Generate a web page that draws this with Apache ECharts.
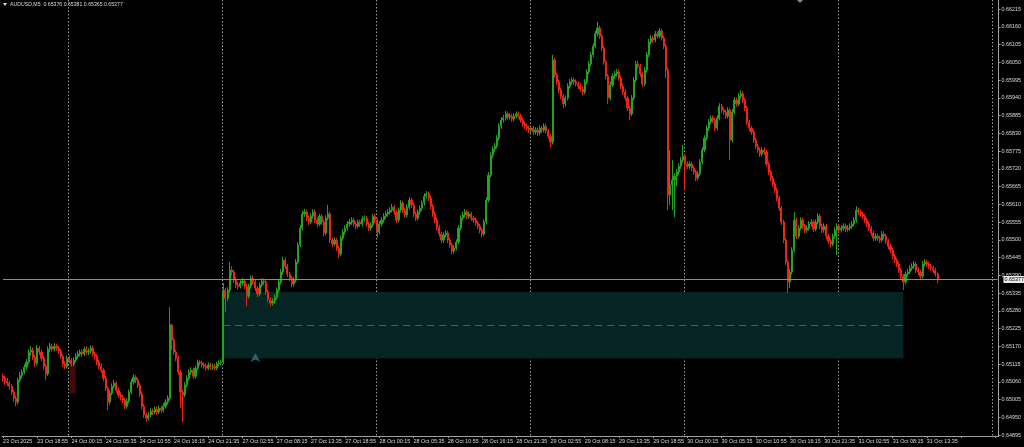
<!DOCTYPE html>
<html>
<head>
<meta charset="utf-8">
<script src="https://cdn.jsdelivr.net/npm/echarts@6/dist/echarts.min.js"></script>
<style>
html,body{margin:0;padding:0;background:#000;}
#c{width:1024px;height:447px;}
</style>
</head>
<body>
<div id="c"></div>
<script>
// 20-minute candles: [open, close, low, high]
const candles = [
[0.65078,0.65071,0.65061,0.65086],[0.65071,0.65062,0.65050,0.65079],[0.65062,0.65056,0.65047,0.65072],[0.65056,0.65046,0.65035,0.65063],[0.65046,0.65028,0.65019,0.65054],
[0.65028,0.65009,0.64998,0.65035],[0.65009,0.64997,0.64984,0.65017],[0.64997,0.65065,0.64990,0.65073],[0.65065,0.65080,0.65058,0.65091],[0.65080,0.65090,0.65071,0.65098],
[0.65090,0.65105,0.65083,0.65114],[0.65105,0.65121,0.65097,0.65130],[0.65121,0.65152,0.65114,0.65160],[0.65152,0.65158,0.65141,0.65170],[0.65158,0.65136,0.65128,0.65166],
[0.65136,0.65118,0.65106,0.65144],[0.65118,0.65164,0.65112,0.65173],[0.65164,0.65152,0.65143,0.65171],[0.65152,0.65133,0.65124,0.65160],[0.65133,0.65108,0.65097,0.65141],
[0.65108,0.65084,0.65065,0.65115],[0.65084,0.65161,0.65078,0.65170],[0.65161,0.65170,0.65152,0.65181],[0.65170,0.65161,0.65153,0.65178],[0.65161,0.65170,0.65154,0.65179],
[0.65170,0.65164,0.65156,0.65178],[0.65164,0.65155,0.65146,0.65171],[0.65155,0.65139,0.65130,0.65162],[0.65139,0.65115,0.65106,0.65145],[0.65115,0.65108,0.65099,0.65124],
[0.65108,0.65133,0.65101,0.65141],[0.65133,0.65127,0.65118,0.65142],[0.65127,0.65115,0.65107,0.65134],[0.65115,0.65127,0.65108,0.65136],[0.65127,0.65139,0.65120,0.65148],
[0.65139,0.65146,0.65131,0.65155],[0.65146,0.65152,0.65138,0.65160],[0.65152,0.65146,0.65137,0.65161],[0.65146,0.65161,0.65140,0.65169],[0.65161,0.65152,0.65144,0.65170],
[0.65152,0.65155,0.65143,0.65164],[0.65155,0.65164,0.65147,0.65173],[0.65164,0.65146,0.65138,0.65171],[0.65146,0.65139,0.65129,0.65154],[0.65139,0.65121,0.65112,0.65146],
[0.65121,0.65108,0.65098,0.65128],[0.65108,0.65096,0.65087,0.65116],[0.65096,0.65071,0.65062,0.65103],[0.65071,0.65040,0.65031,0.65078],[0.65040,0.64997,0.64972,0.65046],
[0.64997,0.65025,0.64988,0.65034],[0.65025,0.65046,0.65018,0.65055],[0.65046,0.65056,0.65039,0.65066],[0.65056,0.65034,0.65026,0.65062],[0.65034,0.65019,0.65010,0.65042],
[0.65019,0.65012,0.65002,0.65027],[0.65012,0.65003,0.64994,0.65020],[0.65003,0.64984,0.64975,0.65010],[0.64984,0.65000,0.64977,0.65009],[0.65000,0.65028,0.64993,0.65036],
[0.65028,0.65059,0.65021,0.65068],[0.65059,0.65074,0.65051,0.65083],[0.65074,0.65065,0.65056,0.65081],[0.65065,0.65050,0.65041,0.65072],[0.65050,0.65022,0.65013,0.65057],
[0.65022,0.64984,0.64975,0.65029],[0.64984,0.64957,0.64948,0.64991],[0.64957,0.64947,0.64936,0.64964],[0.64947,0.64957,0.64940,0.64966],[0.64957,0.64969,0.64950,0.64978],
[0.64969,0.64966,0.64957,0.64977],[0.64966,0.64975,0.64959,0.64984],[0.64975,0.64966,0.64958,0.64983],[0.64966,0.64978,0.64960,0.64987],[0.64978,0.64972,0.64963,0.64986],
[0.64972,0.64984,0.64965,0.64993],[0.64984,0.64997,0.64977,0.65006],[0.64997,0.65009,0.64989,0.65018],[0.65009,0.65236,0.65002,0.65291],[0.65236,0.65189,0.65158,0.65240],
[0.65189,0.65152,0.65143,0.65196],[0.65152,0.65133,0.65124,0.65160],[0.65133,0.65090,0.65081,0.65140],[0.65090,0.65028,0.64978,0.65097],[0.65028,0.65019,0.64935,0.65035],
[0.65019,0.65050,0.65012,0.65059],[0.65050,0.65071,0.65043,0.65080],[0.65071,0.65090,0.65064,0.65098],[0.65090,0.65096,0.65082,0.65105],[0.65096,0.65077,0.65069,0.65104],
[0.65077,0.65102,0.65070,0.65110],[0.65102,0.65121,0.65095,0.65129],[0.65121,0.65118,0.65110,0.65128],[0.65118,0.65112,0.65104,0.65125],[0.65112,0.65108,0.65100,0.65119],
[0.65108,0.65102,0.65094,0.65116],[0.65102,0.65112,0.65096,0.65120],[0.65112,0.65105,0.65098,0.65119],[0.65105,0.65108,0.65097,0.65116],[0.65108,0.65102,0.65095,0.65115],
[0.65102,0.65115,0.65096,0.65122],[0.65115,0.65118,0.65108,0.65126],[0.65118,0.65121,0.65111,0.65128],[0.65121,0.65344,0.65115,0.65366],[0.65344,0.65319,0.65276,0.65351],
[0.65319,0.65344,0.65311,0.65353],[0.65344,0.65406,0.65337,0.65431],[0.65406,0.65400,0.65390,0.65418],[0.65400,0.65375,0.65366,0.65407],[0.65375,0.65360,0.65350,0.65384],
[0.65360,0.65356,0.65346,0.65369],[0.65356,0.65366,0.65349,0.65375],[0.65366,0.65372,0.65358,0.65382],[0.65372,0.65356,0.65347,0.65379],[0.65356,0.65325,0.65294,0.65363],
[0.65325,0.65356,0.65318,0.65364],[0.65356,0.65381,0.65349,0.65390],[0.65381,0.65369,0.65361,0.65389],[0.65369,0.65350,0.65341,0.65376],[0.65350,0.65332,0.65322,0.65357],
[0.65332,0.65360,0.65325,0.65368],[0.65360,0.65372,0.65352,0.65381],[0.65372,0.65369,0.65360,0.65380],[0.65369,0.65338,0.65329,0.65375],[0.65338,0.65316,0.65307,0.65345],
[0.65316,0.65304,0.65294,0.65322],[0.65304,0.65310,0.65296,0.65318],[0.65310,0.65322,0.65302,0.65331],[0.65322,0.65344,0.65315,0.65352],[0.65344,0.65369,0.65336,0.65377],
[0.65369,0.65400,0.65361,0.65409],[0.65400,0.65437,0.65392,0.65448],[0.65437,0.65418,0.65409,0.65445],[0.65418,0.65394,0.65385,0.65425],[0.65394,0.65381,0.65371,0.65401],
[0.65381,0.65363,0.65353,0.65388],[0.65363,0.65375,0.65355,0.65384],[0.65375,0.65431,0.65368,0.65440],[0.65431,0.65484,0.65424,0.65493],[0.65484,0.65536,0.65477,0.65546],
[0.65536,0.65580,0.65529,0.65591],[0.65580,0.65586,0.65571,0.65596],[0.65586,0.65567,0.65558,0.65594],[0.65567,0.65555,0.65545,0.65575],[0.65555,0.65573,0.65548,0.65582],
[0.65573,0.65586,0.65565,0.65595],[0.65586,0.65561,0.65552,0.65593],[0.65561,0.65549,0.65539,0.65568],[0.65549,0.65573,0.65542,0.65581],[0.65573,0.65555,0.65546,0.65580],
[0.65555,0.65521,0.65511,0.65562],[0.65521,0.65567,0.65514,0.65576],[0.65567,0.65580,0.65560,0.65608],[0.65580,0.65499,0.65490,0.65587],[0.65499,0.65487,0.65477,0.65506],
[0.65487,0.65499,0.65480,0.65508],[0.65499,0.65474,0.65465,0.65506],[0.65474,0.65456,0.65443,0.65481],[0.65456,0.65505,0.65449,0.65513],[0.65505,0.65524,0.65497,0.65533],
[0.65524,0.65536,0.65516,0.65545],[0.65536,0.65549,0.65528,0.65557],[0.65549,0.65555,0.65541,0.65564],[0.65555,0.65561,0.65546,0.65570],[0.65561,0.65549,0.65540,0.65568],
[0.65549,0.65542,0.65533,0.65557],[0.65542,0.65555,0.65535,0.65563],[0.65555,0.65549,0.65540,0.65562],[0.65549,0.65564,0.65541,0.65573],[0.65564,0.65567,0.65556,0.65576],
[0.65567,0.65549,0.65541,0.65574],[0.65549,0.65536,0.65527,0.65556],[0.65536,0.65546,0.65528,0.65554],[0.65546,0.65573,0.65539,0.65581],[0.65573,0.65561,0.65552,0.65580],
[0.65561,0.65524,0.65505,0.65567],[0.65524,0.65549,0.65517,0.65557],[0.65549,0.65561,0.65541,0.65570],[0.65561,0.65573,0.65553,0.65582],[0.65573,0.65580,0.65565,0.65589],
[0.65580,0.65586,0.65571,0.65595],[0.65586,0.65592,0.65578,0.65601],[0.65592,0.65601,0.65584,0.65611],[0.65601,0.65586,0.65577,0.65608],[0.65586,0.65561,0.65552,0.65593],
[0.65561,0.65592,0.65554,0.65600],[0.65592,0.65614,0.65585,0.65623],[0.65614,0.65592,0.65583,0.65621],[0.65592,0.65577,0.65568,0.65599],[0.65577,0.65601,0.65570,0.65610],
[0.65601,0.65623,0.65594,0.65632],[0.65623,0.65608,0.65599,0.65630],[0.65608,0.65580,0.65571,0.65615],[0.65580,0.65567,0.65558,0.65587],[0.65567,0.65586,0.65560,0.65594],
[0.65586,0.65598,0.65579,0.65607],[0.65598,0.65614,0.65590,0.65622],[0.65614,0.65635,0.65606,0.65644],[0.65635,0.65642,0.65627,0.65651],[0.65642,0.65629,0.65620,0.65649],
[0.65629,0.65604,0.65595,0.65636],[0.65604,0.65580,0.65571,0.65611],[0.65580,0.65561,0.65552,0.65588],[0.65561,0.65539,0.65530,0.65568],[0.65539,0.65518,0.65509,0.65546],
[0.65518,0.65499,0.65489,0.65525],[0.65499,0.65515,0.65491,0.65523],[0.65515,0.65521,0.65507,0.65530],[0.65521,0.65499,0.65490,0.65528],[0.65499,0.65484,0.65475,0.65506],
[0.65484,0.65465,0.65455,0.65491],[0.65465,0.65474,0.65457,0.65483],[0.65474,0.65493,0.65467,0.65501],[0.65493,0.65536,0.65486,0.65545],[0.65536,0.65567,0.65529,0.65576],
[0.65567,0.65577,0.65559,0.65586],[0.65577,0.65586,0.65569,0.65595],[0.65586,0.65573,0.65564,0.65593],[0.65573,0.65580,0.65565,0.65588],[0.65580,0.65567,0.65558,0.65587],
[0.65567,0.65561,0.65552,0.65575],[0.65561,0.65552,0.65543,0.65569],[0.65552,0.65542,0.65533,0.65559],[0.65542,0.65530,0.65520,0.65549],[0.65530,0.65518,0.65507,0.65536],
[0.65518,0.65555,0.65511,0.65563],[0.65555,0.65623,0.65548,0.65632],[0.65623,0.65700,0.65616,0.65710],[0.65700,0.65762,0.65693,0.65771],[0.65762,0.65781,0.65754,0.65790],
[0.65781,0.65790,0.65773,0.65800],[0.65790,0.65815,0.65782,0.65824],[0.65815,0.65852,0.65808,0.65861],[0.65852,0.65871,0.65844,0.65880],[0.65871,0.65877,0.65863,0.65887],
[0.65877,0.65890,0.65869,0.65899],[0.65890,0.65880,0.65872,0.65897],[0.65880,0.65883,0.65873,0.65892],[0.65883,0.65874,0.65866,0.65890],[0.65874,0.65883,0.65867,0.65892],
[0.65883,0.65890,0.65876,0.65898],[0.65890,0.65883,0.65875,0.65897],[0.65883,0.65871,0.65863,0.65890],[0.65871,0.65859,0.65851,0.65878],[0.65859,0.65852,0.65843,0.65866],
[0.65852,0.65846,0.65838,0.65860],[0.65846,0.65840,0.65831,0.65854],[0.65840,0.65846,0.65832,0.65855],[0.65846,0.65834,0.65825,0.65853],[0.65834,0.65840,0.65826,0.65849],
[0.65840,0.65831,0.65822,0.65848],[0.65831,0.65846,0.65824,0.65855],[0.65846,0.65840,0.65831,0.65853],[0.65840,0.65852,0.65833,0.65861],[0.65852,0.65837,0.65829,0.65860],
[0.65837,0.65821,0.65812,0.65844],[0.65821,0.65803,0.65787,0.65828],[0.65803,0.66057,0.65795,0.66073],[0.66057,0.66011,0.66002,0.66064],[0.66011,0.65989,0.65980,0.66018],
[0.65989,0.65964,0.65955,0.65996],[0.65964,0.65945,0.65936,0.65971],[0.65945,0.65921,0.65908,0.65952],[0.65921,0.65939,0.65913,0.65947],[0.65939,0.65976,0.65932,0.65985],
[0.65976,0.65989,0.65968,0.65998],[0.65989,0.65995,0.65981,0.66004],[0.65995,0.65989,0.65980,0.66003],[0.65989,0.65983,0.65975,0.65997],[0.65983,0.65976,0.65967,0.65991],
[0.65976,0.65967,0.65958,0.65984],[0.65967,0.65958,0.65948,0.65975],[0.65958,0.65989,0.65951,0.65998],[0.65989,0.66020,0.65982,0.66029],[0.66020,0.66045,0.66013,0.66054],
[0.66045,0.66073,0.66038,0.66082],[0.66073,0.66100,0.66066,0.66109],[0.66100,0.66138,0.66093,0.66148],[0.66138,0.66156,0.66130,0.66175],[0.66156,0.66131,0.66122,0.66164],
[0.66131,0.66094,0.66085,0.66138],[0.66094,0.66051,0.66042,0.66101],[0.66051,0.66007,0.65998,0.66058],[0.66007,0.65939,0.65921,0.66014],[0.65939,0.65980,0.65932,0.65989],
[0.65980,0.66007,0.65973,0.66016],[0.66007,0.66014,0.65999,0.66023],[0.66014,0.66020,0.66006,0.66029],[0.66020,0.66001,0.65993,0.66028],[0.66001,0.65976,0.65967,0.66008],
[0.65976,0.65958,0.65949,0.65984],[0.65958,0.65939,0.65930,0.65966],[0.65939,0.65908,0.65899,0.65946],[0.65908,0.65890,0.65871,0.65915],[0.65890,0.65939,0.65883,0.65948],
[0.65939,0.65995,0.65932,0.66004],[0.65995,0.66045,0.65988,0.66054],[0.66045,0.66038,0.66029,0.66056],[0.66038,0.66014,0.66005,0.66045],[0.66014,0.65983,0.65974,0.66021],
[0.65983,0.66026,0.65976,0.66035],[0.66026,0.66073,0.66019,0.66082],[0.66073,0.66113,0.66066,0.66122],[0.66113,0.66125,0.66105,0.66135],[0.66125,0.66119,0.66110,0.66133],
[0.66119,0.66138,0.66112,0.66147],[0.66138,0.66131,0.66123,0.66146],[0.66131,0.66147,0.66124,0.66156],[0.66147,0.66125,0.66117,0.66154],[0.66125,0.66100,0.66091,0.66132],
[0.66100,0.66026,0.66001,0.66107],[0.66026,0.65639,0.65592,0.66034],[0.65639,0.65670,0.65608,0.65778],[0.65670,0.65685,0.65592,0.65747],[0.65685,0.65697,0.65570,0.65706],
[0.65697,0.65710,0.65666,0.65719],[0.65710,0.65728,0.65702,0.65737],[0.65728,0.65747,0.65720,0.65756],[0.65747,0.65759,0.65739,0.65794],[0.65759,0.65735,0.65654,0.65766],
[0.65735,0.65728,0.65719,0.65743],[0.65728,0.65735,0.65720,0.65744],[0.65735,0.65722,0.65713,0.65742],[0.65722,0.65710,0.65701,0.65729],[0.65710,0.65691,0.65682,0.65717],
[0.65691,0.65704,0.65684,0.65713],[0.65704,0.65741,0.65697,0.65750],[0.65741,0.65778,0.65734,0.65787],[0.65778,0.65815,0.65771,0.65824],[0.65815,0.65846,0.65808,0.65855],
[0.65846,0.65865,0.65838,0.65874],[0.65865,0.65877,0.65857,0.65886],[0.65877,0.65871,0.65862,0.65885],[0.65871,0.65846,0.65837,0.65878],[0.65846,0.65877,0.65839,0.65886],
[0.65877,0.65914,0.65870,0.65923],[0.65914,0.65902,0.65893,0.65921],[0.65902,0.65896,0.65887,0.65910],[0.65896,0.65883,0.65874,0.65903],[0.65883,0.65902,0.65876,0.65911],
[0.65902,0.65809,0.65747,0.65909],[0.65809,0.65896,0.65802,0.65905],[0.65896,0.65933,0.65889,0.65942],[0.65933,0.65921,0.65912,0.65940],[0.65921,0.65945,0.65914,0.65954],
[0.65945,0.65952,0.65937,0.65964],[0.65952,0.65933,0.65924,0.65959],[0.65933,0.65908,0.65899,0.65940],[0.65908,0.65865,0.65856,0.65915],[0.65865,0.65846,0.65837,0.65872],
[0.65846,0.65834,0.65825,0.65853],[0.65834,0.65809,0.65800,0.65841],[0.65809,0.65790,0.65781,0.65816],[0.65790,0.65778,0.65769,0.65797],[0.65778,0.65766,0.65757,0.65785],
[0.65766,0.65778,0.65758,0.65787],[0.65778,0.65772,0.65763,0.65786],[0.65772,0.65735,0.65726,0.65779],[0.65735,0.65710,0.65701,0.65742],[0.65710,0.65691,0.65682,0.65717],
[0.65691,0.65673,0.65664,0.65698],[0.65673,0.65654,0.65645,0.65680],[0.65654,0.65629,0.65620,0.65661],[0.65629,0.65598,0.65589,0.65636],[0.65598,0.65555,0.65546,0.65605],
[0.65555,0.65499,0.65490,0.65562],[0.65499,0.65431,0.65422,0.65506],[0.65431,0.65369,0.65335,0.65438],[0.65369,0.65400,0.65350,0.65409],[0.65400,0.65468,0.65393,0.65477],
[0.65468,0.65561,0.65461,0.65586],[0.65561,0.65511,0.65502,0.65568],[0.65511,0.65536,0.65504,0.65545],[0.65536,0.65561,0.65529,0.65570],[0.65561,0.65542,0.65533,0.65568],
[0.65542,0.65530,0.65521,0.65549],[0.65530,0.65536,0.65522,0.65545],[0.65536,0.65549,0.65529,0.65558],[0.65549,0.65555,0.65541,0.65564],[0.65555,0.65533,0.65524,0.65562],
[0.65533,0.65555,0.65526,0.65563],[0.65555,0.65573,0.65548,0.65582],[0.65573,0.65542,0.65533,0.65580],[0.65542,0.65530,0.65521,0.65549],[0.65530,0.65542,0.65522,0.65551],
[0.65542,0.65511,0.65502,0.65549],[0.65511,0.65496,0.65487,0.65518],[0.65496,0.65487,0.65477,0.65503],[0.65487,0.65511,0.65480,0.65519],[0.65511,0.65530,0.65504,0.65539],
[0.65530,0.65542,0.65453,0.65551],[0.65542,0.65530,0.65521,0.65549],[0.65530,0.65536,0.65522,0.65545],[0.65536,0.65542,0.65528,0.65551],[0.65542,0.65533,0.65524,0.65550],
[0.65533,0.65536,0.65525,0.65545],[0.65536,0.65542,0.65528,0.65551],[0.65542,0.65549,0.65534,0.65558],[0.65549,0.65561,0.65541,0.65570],[0.65561,0.65592,0.65553,0.65604],
[0.65592,0.65586,0.65577,0.65600],[0.65586,0.65580,0.65571,0.65594],[0.65580,0.65573,0.65564,0.65588],[0.65573,0.65561,0.65552,0.65580],[0.65561,0.65549,0.65540,0.65568],
[0.65549,0.65536,0.65527,0.65556],[0.65536,0.65521,0.65512,0.65543],[0.65521,0.65505,0.65496,0.65528],[0.65505,0.65511,0.65497,0.65520],[0.65511,0.65505,0.65496,0.65519],
[0.65505,0.65499,0.65490,0.65513],[0.65499,0.65518,0.65492,0.65527],[0.65518,0.65511,0.65502,0.65526],[0.65511,0.65496,0.65487,0.65518],[0.65496,0.65480,0.65471,0.65503],
[0.65480,0.65468,0.65459,0.65487],[0.65468,0.65449,0.65440,0.65475],[0.65449,0.65437,0.65428,0.65456],[0.65437,0.65425,0.65416,0.65444],[0.65425,0.65406,0.65397,0.65432],
[0.65406,0.65387,0.65378,0.65413],[0.65387,0.65369,0.65344,0.65394],[0.65369,0.65394,0.65362,0.65402],[0.65394,0.65400,0.65386,0.65409],[0.65400,0.65412,0.65393,0.65421],
[0.65412,0.65418,0.65404,0.65427],[0.65418,0.65425,0.65410,0.65434],[0.65425,0.65406,0.65397,0.65432],[0.65406,0.65400,0.65391,0.65414],[0.65400,0.65387,0.65378,0.65407],
[0.65387,0.65425,0.65380,0.65434],[0.65425,0.65431,0.65417,0.65440],[0.65431,0.65425,0.65416,0.65438],[0.65425,0.65418,0.65409,0.65432],[0.65418,0.65412,0.65403,0.65426],
[0.65412,0.65406,0.65397,0.65419],[0.65406,0.65394,0.65385,0.65413],[0.65394,0.65377,0.65365,0.65399]
];

const tickLabels = ['23 Oct 2025','23 Oct 18:55','24 Oct 00:15','24 Oct 05:35','24 Oct 10:55','24 Oct 16:15','24 Oct 21:35',
'27 Oct 02:55','27 Oct 08:15','27 Oct 13:35','27 Oct 18:55','28 Oct 00:15','28 Oct 05:35','28 Oct 10:55','28 Oct 16:15','28 Oct 21:35',
'29 Oct 02:55','29 Oct 08:15','29 Oct 13:35','29 Oct 18:55','30 Oct 00:15','30 Oct 05:35','30 Oct 10:55','30 Oct 16:15','30 Oct 21:35',
'31 Oct 02:55','31 Oct 08:15','31 Oct 13:35'];

const priceTicks = [0.64895,0.64950,0.65005,0.65060,0.65115,0.65170,0.65225,0.65280,0.65335,0.65390,0.65445,0.65500,
0.65555,0.65610,0.65665,0.65720,0.65775,0.65830,0.65885,0.65940,0.65995,0.66050,0.66105,0.66160,0.66215];

const headerValues = [0.65376, 0.65381, 0.65365, 0.65377]; // last M5 bar O H L C
const lastPrice = 0.65377;
const zone = {fromBar: 103, toBar: 421, top: 0.65338, bottom: 0.65133, mid: 0.65236};
const redBox = {fromBar: 31, toBar: 34, top: 0.65127, bottom: 0.65025};
const arrowMark = {bar: 118, price: 0.65135};

const TOTAL_SLOTS = 466;     // visible bar slots incl. right-side shift
const LABEL_EVERY = 16;      // bars between time labels
const GRID_FIRST = 31, GRID_EVERY = 72;

const cats = [];
for (let i = 0; i < TOTAL_SLOTS; i++) cats.push(String(i));

const chart = echarts.init(document.getElementById('c'), null, {renderer: 'canvas'});
const FONT = 'Liberation Sans, Arial, sans-serif';
const axisColor = '#a0a0a0';
const txtColor = '#dcdcdc';
const UP = '#22a422', DOWN = '#ee2418';

chart.setOption({
  backgroundColor: '#000000',
  animation: false,
  grid: {left: 1, right: 24, top: 0, bottom: 11, containLabel: false},
  graphic: [
    {type: 'polygon', shape: {points: [[3,3],[7,3],[5,6]]}, style: {fill: '#e0e0e0'}},
    {type: 'text', left: 10, top: 2, style: {text: 'AUDUSD,M5  ' + headerValues.map(v => v.toFixed(5)).join(' '), fill: txtColor, font: '5.2px ' + FONT}},
    {type: 'polygon', shape: {points: [[797,0],[803,0],[800,3]]}, style: {fill: '#8a8a8a'}}
  ],
  xAxis: {
    type: 'category', data: cats, boundaryGap: true,
    axisLine: {show: true, lineStyle: {color: axisColor, width: 1}},
    axisTick: {show: true, alignWithLabel: true, length: 2, interval: (i) => i % LABEL_EVERY === 0, lineStyle: {color: axisColor}},
    axisLabel: {
      interval: (i) => i % LABEL_EVERY === 0,
      formatter: (v) => { const k = Number(v) / LABEL_EVERY; return tickLabels[k] || ''; },
      align: 'left', margin: 3, fontSize: 5.4, color: txtColor, fontFamily: FONT
    },
    splitLine: {show: true, interval: (i) => i >= GRID_FIRST && (i - GRID_FIRST) % GRID_EVERY === 0,
      lineStyle: {color: '#9a9a9a', type: [1.5, 2], width: 1}}
  },
  yAxis: {
    type: 'value', position: 'right', min: 0.64892, max: 0.66243, scale: true,
    axisLine: {show: true, lineStyle: {color: axisColor, width: 1}},
    axisTick: {show: true, length: 2, customValues: priceTicks, lineStyle: {color: axisColor}},
    axisLabel: {customValues: priceTicks, formatter: (v) => v.toFixed(5), margin: 3, fontSize: 5.4, color: txtColor, fontFamily: FONT},
    splitLine: {show: false}
  },
  series: [{
    type: 'candlestick',
    data: candles,
    barWidth: 1.6,
    large: false,
    itemStyle: {color: UP, color0: DOWN, borderColor: UP, borderColor0: DOWN, borderColorDoji: UP, borderWidth: 1},
    markArea: {
      silent: true,
      data: [
        [{xAxis: String(zone.fromBar), yAxis: zone.top, itemStyle: {color: '#062424'}}, {xAxis: String(zone.toBar), yAxis: zone.bottom}],
        [{xAxis: String(redBox.fromBar), yAxis: redBox.top, itemStyle: {color: '#3e0a0a'}}, {xAxis: String(redBox.toBar), yAxis: redBox.bottom}]
      ]
    },
    markLine: {
      silent: true, symbol: 'none', animation: false,
      data: [
        [{coord: ['0', lastPrice], lineStyle: {color: '#8c8c8c', type: 'solid', width: 1},
          label: {show: true, position: 'end', formatter: lastPrice.toFixed(5), color: '#000', backgroundColor: '#e8e8e8', fontSize: 5.4, padding: [1, 1], distance: 6, fontFamily: FONT}},
         {coord: [String(TOTAL_SLOTS - 1), lastPrice]}],
        [{coord: [String(zone.fromBar), zone.mid], lineStyle: {color: '#2d6a6a', type: [7, 5], width: 1}, label: {show: false}},
         {coord: [String(zone.toBar), zone.mid]}]
      ]
    },
    markPoint: {
      silent: true,
      data: [{coord: [String(arrowMark.bar), arrowMark.price], symbol: 'path://M5,0 L10,10 L5,7 L0,10 Z', symbolSize: [10, 9],
        itemStyle: {color: '#23666c'}, label: {show: false}}]
    }
  }]
});
</script>
</body>
</html>
